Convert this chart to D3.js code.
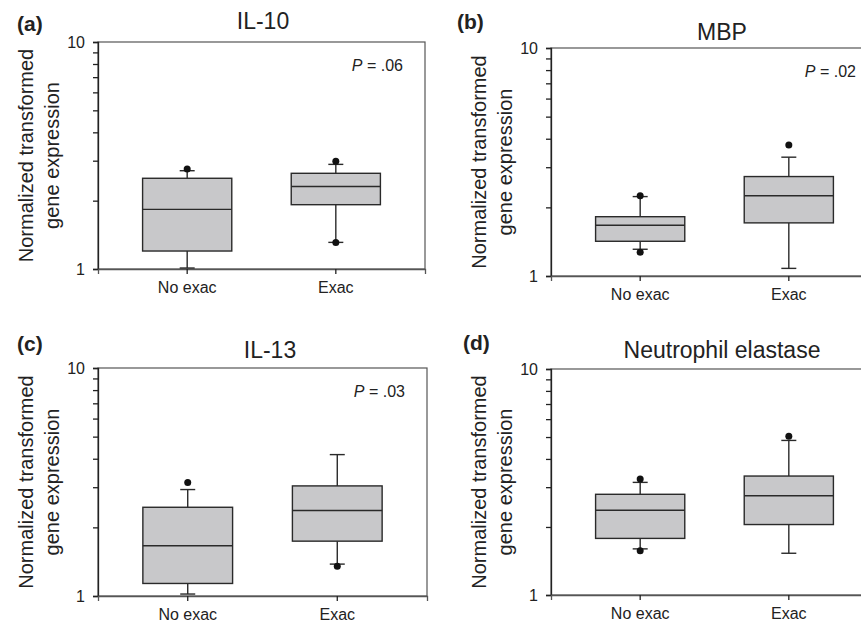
<!DOCTYPE html>
<html>
<head>
<meta charset="utf-8">
<script src="https://cdn.jsdelivr.net/npm/d3@7"></script>
<style>
  body { margin: 0; background: #fff; }
  svg { font-family: "Liberation Sans", Arial, sans-serif; }
</style>
</head>
<body>
<svg id="chart" width="861" height="622"></svg>
<script>
// data: [lower whisker, Q1, median, Q3, upper whisker]
const groups = ["No exac", "Exac"];
const titles = ["IL-10", "MBP", "IL-13", "Neutrophil elastase"];
const letters = ["(a)", "(b)", "(c)", "(d)"];
const pValues = [".06", ".02", ".03", null];

const il10Boxes = [[1.01, 1.20, 1.83, 2.51, 2.71], [1.31, 1.92, 2.31, 2.64, 2.89]];
const il10Dots = [[2.76], [2.98, 1.31]];
const mbpBoxes = [[1.31, 1.42, 1.67, 1.82, 2.23], [1.08, 1.71, 2.25, 2.73, 3.32]];
const mbpDots = [[2.25, 1.27], [3.75]];
const il13Boxes = [[1.02, 1.135, 1.66, 2.45, 2.93], [1.38, 1.74, 2.37, 3.04, 4.17]];
const il13Dots = [[3.15], [1.35]];
const neBoxes = [[1.60, 1.78, 2.37, 2.79, 3.15], [1.53, 2.05, 2.75, 3.36, 4.83]];
const neDots = [[3.26, 1.57], [5.04]];

const yTicks = [1, 2, 3, 4, 5, 6, 7, 8, 9, 10];
const yLabels = [1, 10];

const boxes = [il10Boxes, mbpBoxes, il13Boxes, neBoxes];
const dots = [il10Dots, mbpDots, il13Dots, neDots];

// frame of each panel and text placement
const panels = [
  { x0: 98, y0: 42, w: 327, h: 227, titleX: 263, titleY: 29, labX: 17, labY: 31 },
  { x0: 551, y0: 48, w: 327, h: 228, titleX: 722, titleY: 40, labX: 457, labY: 29 },
  { x0: 98, y0: 368, w: 329, h: 228, titleX: 270, titleY: 358, labX: 17, labY: 351 },
  { x0: 551, y0: 369, w: 327, h: 226, titleX: 722, titleY: 358, labX: 463, labY: 350 }
];

const svg = d3.select("#chart");
const ink = "#222";

panels.forEach((p, i) => {
  const g = svg.append("g");
  const x = d3.scaleBand().domain(groups)
    .range([p.x0, p.x0 + p.w]).paddingInner(0.4).paddingOuter(0.3);
  const y = d3.scaleLog().domain([1, 10]).range([p.y0 + p.h, p.y0]);

  // frame
  g.append("rect")
    .attr("x", p.x0).attr("y", p.y0)
    .attr("width", p.w).attr("height", p.h)
    .attr("fill", "none").attr("stroke", "#555").attr("stroke-width", 1.2);

  // y axis
  const yAxis = g.append("g")
    .attr("transform", `translate(${p.x0},0)`)
    .call(d3.axisLeft(y).tickValues(yTicks).tickSize(5).tickPadding(8)
      .tickFormat(d => yLabels.includes(d) ? d : ""));
  yAxis.select(".domain").attr("stroke", ink).attr("stroke-width", 1.3);
  yAxis.selectAll(".tick line").attr("stroke", ink).attr("stroke-width", 1.3);
  yAxis.selectAll(".tick text").attr("font-size", 16).attr("fill", ink)
    .attr("font-family", "Liberation Sans, Arial, sans-serif");

  // x axis
  const xAxis = g.append("g")
    .attr("transform", `translate(0,${p.y0 + p.h})`)
    .call(d3.axisBottom(x).tickSize(5).tickPadding(8));
  xAxis.select(".domain").attr("stroke", "#555").attr("stroke-width", 1.3);
  xAxis.selectAll(".tick line").attr("stroke", ink).attr("stroke-width", 1.3);
  xAxis.selectAll(".tick text").attr("font-size", 16).attr("fill", ink)
    .attr("font-family", "Liberation Sans, Arial, sans-serif");

  // boxes
  const bw = x.bandwidth();
  const cap = 15;
  groups.forEach((grp, j) => {
    const [lo, q1, med, q3, hi] = boxes[i][j];
    const cx = x(grp) + bw / 2;
    const bg = g.append("g").attr("stroke", "#2a2a2a").attr("stroke-width", 1.4);
    bg.append("line").attr("x1", cx).attr("x2", cx).attr("y1", y(hi)).attr("y2", y(q3));
    bg.append("line").attr("x1", cx).attr("x2", cx).attr("y1", y(q1)).attr("y2", y(lo));
    bg.append("line").attr("x1", cx - cap / 2).attr("x2", cx + cap / 2).attr("y1", y(hi)).attr("y2", y(hi));
    bg.append("line").attr("x1", cx - cap / 2).attr("x2", cx + cap / 2).attr("y1", y(lo)).attr("y2", y(lo));
    bg.append("rect")
      .attr("x", x(grp)).attr("y", y(q3))
      .attr("width", bw).attr("height", y(q1) - y(q3))
      .attr("fill", "#c8c8ca");
    bg.append("line").attr("x1", x(grp)).attr("x2", x(grp) + bw).attr("y1", y(med)).attr("y2", y(med));

    g.selectAll(null).data(dots[i][j]).join("circle")
      .attr("cx", cx).attr("cy", d => y(d)).attr("r", 3.5).attr("fill", "#111");
  });

  // title, panel letter, p value
  g.append("text").attr("x", p.titleX).attr("y", p.titleY)
    .attr("text-anchor", "middle").attr("font-size", 23).attr("fill", ink).text(titles[i]);
  g.append("text").attr("x", p.labX).attr("y", p.labY)
    .attr("font-size", 21).attr("font-weight", "bold").attr("fill", ink).text(letters[i]);
  if (pValues[i]) {
    const t = g.append("text").attr("x", p.x0 + p.w - 22).attr("y", p.y0 + 29)
      .attr("text-anchor", "end").attr("font-size", 16).attr("fill", ink);
    t.append("tspan").attr("font-style", "italic").text("P");
    t.append("tspan").text(" = " + pValues[i]);
  }

  // y label, two lines
  const cy = p.y0 + p.h / 2;
  ["Normalized transformed", "gene expression"].forEach((line, k) => {
    g.append("text")
      .attr("transform", `translate(${p.x0 - 65 + k * 26},${cy}) rotate(-90)`)
      .attr("text-anchor", "middle").attr("font-size", 20).attr("fill", ink)
      .text(line);
  });
});
</script>
</body>
</html>
